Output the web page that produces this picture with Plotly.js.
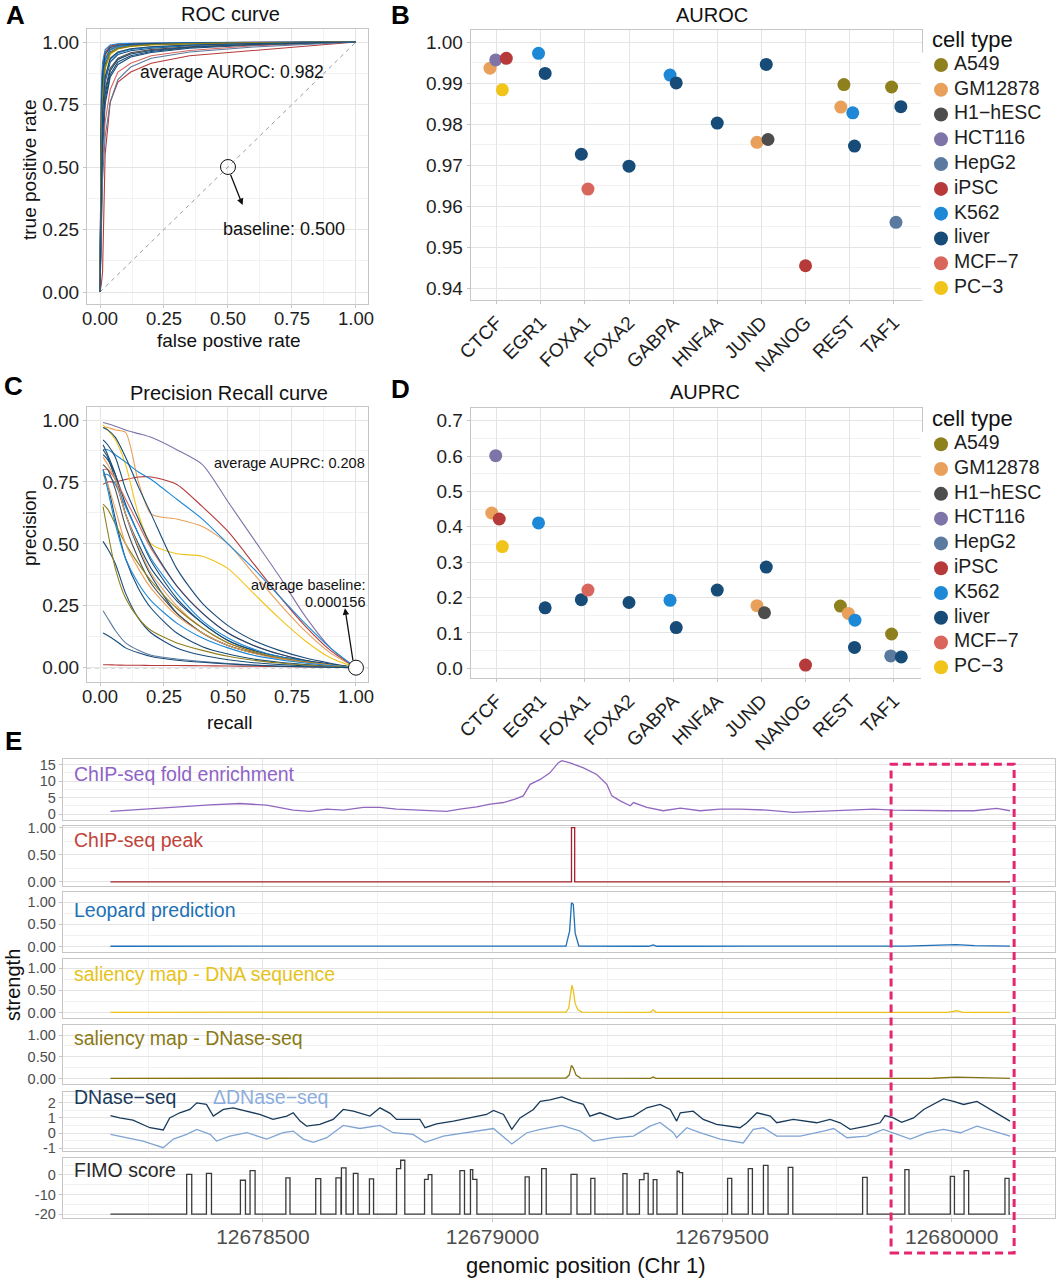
<!DOCTYPE html>
<html>
<head>
<meta charset="utf-8">
<script src="https://cdn.plot.ly/plotly-3.0.1.min.js"></script>
<style>
  html, body { margin: 0; padding: 0; background: #ffffff; }
  #fig { width: 1057px; height: 1280px; }
</style>
</head>
<body>
<div id="fig"></div>
<script>
// ---------------- cell types & TFs ----------------
const cellTypes  = ['A549', 'GM12878', 'H1\u2212hESC', 'HCT116', 'HepG2', 'iPSC', 'K562', 'liver', 'MCF\u22127', 'PC\u22123'];
const cellColors = ['#8F801E', '#E9A05A', '#4D4D4D', '#7F74A8', '#5B7A9F', '#B73A3A', '#1C88D6', '#174B78', '#D9665C', '#F0C419'];
const tfNames    = ['CTCF', 'EGR1', 'FOXA1', 'FOXA2', 'GABPA', 'HNF4A', 'JUND', 'NANOG', 'REST', 'TAF1'];

// one entry per evaluated TF / cell-type pair
const pairTF   = ['CTCF','CTCF','CTCF','CTCF','EGR1','EGR1','FOXA1','FOXA1','FOXA2','GABPA','GABPA','HNF4A',
                  'JUND','JUND','JUND','NANOG','REST','REST','REST','REST','TAF1','TAF1','TAF1'];
const pairCell = ['GM12878','HCT116','iPSC','PC\u22123','K562','liver','liver','MCF\u22127','liver','K562','liver','liver',
                  'GM12878','H1\u2212hESC','liver','iPSC','A549','GM12878','K562','liver','A549','HepG2','liver'];
const aurocValues = [0.9937,0.9957,0.9961,0.9884,0.9973,0.9924,0.9727,0.9642,0.9698,0.9920,0.9901,0.9803,
                     0.9756,0.9763,0.9946,0.9455,0.9897,0.9842,0.9828,0.9747,0.9891,0.9561,0.9843];
const auprcValues = [0.439,0.601,0.422,0.344,0.411,0.171,0.194,0.221,0.186,0.192,0.115,0.221,
                     0.177,0.157,0.286,0.009,0.176,0.155,0.136,0.059,0.097,0.035,0.032];
// horizontal jitter of each dot inside its TF column
const aurocJitter = [-0.15,-0.02,0.22,0.13,-0.05,0.10,-0.08,0.07,0,-0.07,0.07,0,-0.10,0.15,0.11,0,-0.13,-0.20,0.07,0.11,-0.05,0.05,0.16];
const auprcJitter = [-0.11,-0.02,0.06,0.13,-0.05,0.10,-0.08,0.07,0,-0.07,0.07,0,-0.10,0.07,0.11,0,-0.21,-0.03,0.12,0.11,-0.05,-0.07,0.17];

// ---------------- ROC curves ----------------
const rocFpr = [0, 0.002, 0.005, 0.01, 0.02, 0.04, 0.07, 0.12, 0.2, 0.35, 0.6, 1];
const rocTpr = [
  [0,0.30,0.66,0.85,0.94,0.975,0.985,0.990,0.993,0.996,0.998,1],
  [0,0.36,0.74,0.89,0.955,0.982,0.990,0.993,0.995,0.997,0.999,1],
  [0,0.38,0.76,0.90,0.96,0.984,0.991,0.994,0.996,0.997,0.999,1],
  [0,0.22,0.55,0.77,0.89,0.95,0.972,0.982,0.988,0.992,0.996,1],
  [0,0.42,0.80,0.92,0.97,0.988,0.993,0.995,0.997,0.998,0.999,1],
  [0,0.28,0.63,0.83,0.93,0.97,0.982,0.988,0.992,0.995,0.998,1],
  [0,0.13,0.37,0.60,0.77,0.87,0.92,0.945,0.962,0.978,0.990,1],
  [0,0.10,0.30,0.50,0.68,0.81,0.88,0.915,0.945,0.966,0.985,1],
  [0,0.12,0.35,0.57,0.75,0.86,0.91,0.94,0.958,0.975,0.988,1],
  [0,0.28,0.62,0.82,0.925,0.968,0.981,0.988,0.992,0.995,0.998,1],
  [0,0.25,0.58,0.79,0.91,0.96,0.976,0.985,0.990,0.994,0.997,1],
  [0,0.18,0.46,0.69,0.84,0.92,0.95,0.965,0.975,0.985,0.993,1],
  [0,0.15,0.40,0.63,0.80,0.89,0.93,0.955,0.968,0.980,0.990,1],
  [0,0.15,0.41,0.64,0.81,0.895,0.935,0.957,0.970,0.981,0.991,1],
  [0,0.33,0.70,0.87,0.95,0.978,0.987,0.991,0.994,0.996,0.998,1],
  [0,0.01,0.03,0.08,0.55,0.76,0.84,0.88,0.915,0.945,0.965,1],
  [0,0.24,0.57,0.78,0.90,0.958,0.975,0.984,0.990,0.994,0.997,1],
  [0,0.20,0.50,0.72,0.86,0.935,0.960,0.973,0.981,0.988,0.994,1],
  [0,0.19,0.48,0.71,0.85,0.93,0.956,0.970,0.978,0.987,0.994,1],
  [0,0.14,0.40,0.62,0.79,0.885,0.93,0.952,0.966,0.979,0.990,1],
  [0,0.23,0.56,0.78,0.90,0.955,0.973,0.983,0.989,0.993,0.997,1],
  [0,0.08,0.25,0.45,0.62,0.76,0.85,0.90,0.935,0.960,0.980,1],
  [0,0.20,0.50,0.72,0.86,0.935,0.960,0.973,0.981,0.988,0.994,1]
];
const rocChance = [0, 1];
const rocBaseline = 0.5;

// ---------------- precision-recall curves ----------------
const prRecall = [0.012,0.03,0.06,0.1,0.15,0.2,0.3,0.4,0.5,0.6,0.7,0.8,0.9,1.0];
const prPrecision = [
  [0.97,0.97,0.96,0.95,0.75,0.62,0.60,0.57,0.50,0.38,0.26,0.15,0.06,0],
  [0.99,0.985,0.975,0.96,0.945,0.93,0.88,0.82,0.67,0.52,0.37,0.21,0.08,0],
  [0.74,0.75,0.75,0.76,0.77,0.77,0.74,0.65,0.55,0.42,0.29,0.17,0.07,0],
  [0.98,0.96,0.92,0.82,0.62,0.50,0.46,0.45,0.40,0.30,0.20,0.11,0.04,0],
  [0.88,0.88,0.86,0.83,0.79,0.76,0.68,0.60,0.50,0.40,0.29,0.18,0.08,0],
  [0.90,0.86,0.78,0.62,0.48,0.37,0.22,0.14,0.09,0.06,0.04,0.025,0.012,0],
  [0.86,0.84,0.78,0.66,0.54,0.43,0.28,0.18,0.11,0.07,0.045,0.028,0.013,0],
  [0.80,0.80,0.76,0.68,0.58,0.48,0.33,0.22,0.14,0.09,0.055,0.03,0.014,0],
  [0.88,0.85,0.76,0.62,0.50,0.40,0.27,0.18,0.11,0.07,0.045,0.028,0.013,0],
  [0.78,0.78,0.74,0.65,0.54,0.44,0.30,0.19,0.12,0.075,0.045,0.027,0.012,0],
  [0.80,0.74,0.60,0.44,0.32,0.24,0.14,0.085,0.055,0.035,0.022,0.013,0.006,0],
  [0.92,0.90,0.85,0.72,0.60,0.49,0.33,0.22,0.14,0.09,0.055,0.03,0.014,0],
  [0.85,0.82,0.76,0.62,0.49,0.38,0.25,0.16,0.10,0.065,0.04,0.024,0.011,0],
  [0.82,0.80,0.72,0.57,0.44,0.34,0.22,0.14,0.09,0.06,0.037,0.022,0.010,0],
  [0.97,0.96,0.93,0.85,0.73,0.62,0.40,0.26,0.17,0.11,0.07,0.04,0.018,0],
  [0.012,0.012,0.011,0.010,0.010,0.009,0.009,0.008,0.007,0.006,0.005,0.004,0.002,0],
  [0.66,0.64,0.58,0.50,0.42,0.35,0.24,0.16,0.10,0.065,0.04,0.024,0.011,0],
  [0.78,0.74,0.64,0.50,0.40,0.32,0.21,0.14,0.09,0.058,0.036,0.021,0.010,0],
  [0.80,0.72,0.58,0.44,0.34,0.27,0.18,0.12,0.08,0.05,0.032,0.019,0.009,0],
  [0.51,0.48,0.42,0.30,0.20,0.14,0.08,0.05,0.032,0.02,0.013,0.008,0.004,0],
  [0.65,0.55,0.40,0.28,0.20,0.15,0.10,0.07,0.046,0.03,0.019,0.011,0.005,0],
  [0.23,0.20,0.15,0.10,0.07,0.05,0.035,0.025,0.017,0.011,0.007,0.004,0.002,0],
  [0.14,0.13,0.11,0.08,0.06,0.045,0.03,0.022,0.015,0.010,0.006,0.004,0.002,0]
];
const prBaseline = 0.000156;

// ---------------- genome tracks (chr1) ----------------
const regionStart = 12678168;
const regionEnd   = 12680127;
const highlightRegion = [12679868, 12680136];

const foldPos = [12678168,12678239,12678312,12678385,12678450,12678508,12678566,12678602,12678639,12678675,
                 12678719,12678755,12678791,12678827,12678864,12678900,12678929,12678966,12678995,12679024,
                 12679049,12679067,12679082,12679104,12679125,12679143,12679151,12679169,12679198,12679227,
                 12679249,12679260,12679278,12679300,12679307,12679336,12679372,12679409,12679452,12679496,
                 12679539,12679597,12679655,12679714,12679772,12679830,12679873,12679931,12679990,12680048,
                 12680098,12680127];
const foldValue = [0.8,1.5,2.0,2.8,3.2,2.7,1.2,0.8,1.5,1.2,
                   2.0,2.0,1.5,1.2,1.0,0.8,1.5,2.2,3.0,3.5,
                   4.5,5.5,9.0,10.5,12.5,15.5,16.2,15.5,14.0,12.0,
                   9.0,5.5,4.0,2.5,3.5,2.0,1.0,1.8,1.0,1.5,
                   1.5,1.2,0.5,0.8,1.2,1.5,1.2,1.0,1.0,1.0,
                   1.7,1.0];

const peakStarts = [12679172];
const peakEnds   = [12679179];

const leopardPos   = [12678168,12678600,12679000,12679160,12679168,12679172,12679176,12679180,12679188,
                      12679340,12679350,12679358,12679900,12679960,12680010,12680050,12680127];
const leopardValue = [0.005,0.005,0.006,0.01,0.35,0.98,0.95,0.30,0.01,
                      0.005,0.035,0.005,0.008,0.03,0.04,0.02,0.008];

const salSeqPos   = [12678168,12679000,12679160,12679166,12679170,12679173,12679176,12679180,12679186,12679195,
                     12679344,12679350,12679356,12679990,12680012,12680024,12680127];
const salSeqValue = [0.005,0.005,0.01,0.10,0.45,0.62,0.50,0.20,0.06,0.01,
                     0.005,0.06,0.005,0.005,0.04,0.005,0.005];

const salDnasePos   = [12678168,12679000,12679160,12679167,12679172,12679176,12679182,12679192,
                       12679344,12679350,12679356,12679960,12680010,12680060,12680127];
const salDnaseValue = [0.004,0.004,0.01,0.08,0.30,0.24,0.08,0.01,
                       0.004,0.035,0.004,0.006,0.03,0.02,0.004];

const dnasePos = [12678168,12678188,12678217,12678239,12678254,12678283,12678297,12678319,12678341,12678356,
                  12678377,12678392,12678414,12678435,12678465,12678493,12678522,12678552,12678566,12678581,
                  12678595,12678624,12678653,12678675,12678697,12678719,12678733,12678755,12678777,12678791,
                  12678813,12678842,12678853,12678878,12678915,12678951,12678987,12679002,12679024,12679042,
                  12679060,12679089,12679104,12679125,12679151,12679176,12679198,12679212,12679234,12679271,
                  12679307,12679336,12679365,12679387,12679401,12679409,12679437,12679459,12679488,12679539,
                  12679554,12679576,12679605,12679619,12679655,12679706,12679735,12679757,12679779,12679815,
                  12679844,12679855,12679873,12679891,12679917,12679939,12679982,12680004,12680026,12680055,
                  12680084,12680113,12680127];
const dnaseValue = [1.16,1.0,0.85,0.57,0.35,0.2,1.0,1.34,1.56,2.0,
                    1.9,1.12,1.56,1.67,1.45,1.23,0.9,1.12,1.34,0.79,
                    0.46,0.57,0.9,1.56,1.45,1.23,1.12,1.67,1.3,0.9,
                    0.9,0.9,0.35,0.6,0.79,1.0,1.23,1.5,1.23,0.24,
                    1.0,1.56,2.1,2.2,2.39,2.1,1.9,1.12,1.34,0.9,
                    1.12,1.67,1.89,1.56,0.79,1.34,1.45,0.9,0.57,0.35,
                    0.68,1.34,1.12,0.68,0.9,0.68,0.9,0.68,0.24,0.46,
                    0.68,1.16,1.0,0.71,1.0,1.56,2.26,2.1,1.89,2.1,
                    1.56,1.0,0.79];

const deltaPos = [12678168,12678203,12678239,12678283,12678305,12678334,12678356,12678385,12678399,12678428,
                  12678465,12678508,12678544,12678566,12678588,12678610,12678639,12678675,12678711,12678755,
                  12678784,12678827,12678853,12678893,12678944,12679002,12679042,12679075,12679104,12679151,
                  12679191,12679220,12679263,12679307,12679343,12679365,12679394,12679401,12679423,12679452,
                  12679496,12679546,12679568,12679590,12679619,12679670,12679721,12679743,12679772,12679815,
                  12679851,12679881,12679910,12679946,12679982,12680019,12680055,12680091,12680127];
const deltaValue = [-0.09,-0.31,-0.53,-0.97,-0.4,-0.09,0.24,-0.09,-0.53,-0.2,
                    0.02,-0.4,0.02,0.13,-0.4,-0.62,-0.31,0.5,0.3,0.5,
                    0.02,-0.09,-0.62,-0.2,0.02,0.3,-0.72,0.02,0.24,0.5,
                    0.13,-0.53,-0.31,-0.2,0.46,0.7,0.02,-0.31,0.35,0.02,
                    -0.4,-0.66,0.24,0.35,-0.2,-0.2,0.13,0.3,-0.31,-0.2,
                    0.24,-0.09,-0.4,0.02,0.24,0.02,0.46,0.13,-0.2];

// FIMO motif hits: start, end, score (background level -20)
const fimoStart = [12678334,12678377,12678451,12678472,12678550,12678615,12678659,12678671,12678697,12678732,
                   12678791,12678800,12678852,12678860,12678929,12678952,12678957,12679071,12679107,12679171,
                   12679214,12679284,12679320,12679330,12679350,12679402,12679407,12679512,12679557,12679590,
                   12679644,12679806,12679898,12679997,12680027,12680116];
const fimoEnd   = [12678345,12678388,12678462,12678483,12678559,12678626,12678670,12678681,12678707,12678741,
                   12678800,12678809,12678860,12678868,12678939,12678957,12678966,12679080,12679117,12679184,
                   12679223,12679293,12679330,12679339,12679358,12679407,12679414,12679521,12679566,12679600,
                   12679654,12679816,12679907,12680006,12680037,12680125];
const fimoScore = [0.34,0.85,-2.7,2.2,-1.5,-1.9,-1.5,3.6,0.85,-2.0,
                   3.2,7.5,-2.2,0.2,2.2,2.7,-2.2,-1.0,3.2,0.34,
                   -1.7,0.7,-2.4,0.85,-2.4,1.9,1.2,-1.7,3.2,4.9,
                   3.9,-1.2,2.7,-0.7,2.2,-1.7];
const fimoFloor = -20;

const genomeTicks = [12678500, 12679000, 12679500, 12680000];

// ---------------- helpers ----------------
const W = 1057, H = 1280;
const FONT = 'Liberation Sans, Arial, Helvetica, sans-serif';
const GRID = '#E4E4E4', MINOR = '#F2F2F2', BORDER = '#C6C6C6';
const hx = (a, b) => [a / W, b / W];
const hy = (top, bottom) => [1 - bottom / H, 1 - top / H];
const px = v => v / W;
const py = v => 1 - v / H;

function axis(extra) {
  return Object.assign({
    showline: true, mirror: true, linecolor: BORDER, linewidth: 1,
    showgrid: true, gridcolor: GRID, gridwidth: 1, zeroline: false,
    ticks: 'outside', ticklen: 3, tickwidth: 1, tickcolor: BORDER,
    tickfont: { family: FONT, size: 19, color: '#1E1E1E' },
    fixedrange: true
  }, extra);
}
function minorGrid(vals) {
  return { tickmode: 'array', tickvals: vals, showgrid: true, gridcolor: MINOR, gridwidth: 1, ticks: '' };
}
const cellColor = c => cellColors[cellTypes.indexOf(c)];

const traces = [];

// ---- A: ROC curves
traces.push({ x: rocChance, y: rocChance, xaxis: 'x', yaxis: 'y', mode: 'lines',
  line: { color: '#9A9A9A', width: 1, dash: '4px,4px' }, hoverinfo: 'skip' });
pairTF.forEach((tf, i) => {
  traces.push({ x: rocFpr, y: rocTpr[i], xaxis: 'x', yaxis: 'y', mode: 'lines',
    line: { color: cellColor(pairCell[i]), width: 1.1 }, name: tf + ' ' + pairCell[i] });
});

// ---- C: precision-recall curves
pairTF.forEach((tf, i) => {
  traces.push({ x: prRecall, y: prPrecision[i], xaxis: 'x3', yaxis: 'y3', mode: 'lines',
    line: { color: cellColor(pairCell[i]), width: 1.1, shape: 'spline', smoothing: 0.7 }, name: tf + ' ' + pairCell[i] });
});

// ---- B / D: per-pair scores, coloured by cell type
cellTypes.forEach((ct, k) => {
  const idx = pairCell.map((c, i) => c === ct ? i : -1).filter(i => i >= 0);
  if (!idx.length) return;
  traces.push({ x: idx.map(i => tfNames.indexOf(pairTF[i]) + aurocJitter[i]), y: idx.map(i => aurocValues[i]),
    xaxis: 'x2', yaxis: 'y2', mode: 'markers', marker: { color: cellColors[k], size: 13 }, name: ct });
  traces.push({ x: idx.map(i => tfNames.indexOf(pairTF[i]) + auprcJitter[i]), y: idx.map(i => auprcValues[i]),
    xaxis: 'x4', yaxis: 'y4', mode: 'markers', marker: { color: cellColors[k], size: 13 }, name: ct });
});

// ---- legends for B and D (cell-type keys)
const legendIdx = cellTypes.map((c, i) => i);
[['x12', 'y12'], ['x13', 'y13']].forEach(([xa, ya]) => {
  traces.push({ x: cellTypes.map(() => 0), y: legendIdx, xaxis: xa, yaxis: ya, mode: 'markers',
    marker: { color: cellColors, size: 14 }, hoverinfo: 'skip', cliponaxis: false });
  traces.push({ x: cellTypes.map(() => 13), y: legendIdx, xaxis: xa, yaxis: ya, mode: 'text',
    text: cellTypes, textposition: 'middle right',
    textfont: { family: FONT, size: 19.5, color: '#1E1E1E' }, hoverinfo: 'skip', cliponaxis: false });
});

// ---- E: genome tracks
function stepFromHits(starts, ends, vals, floor) {
  const xs = [regionStart], ys = [floor];
  let prevEnd = null;
  starts.forEach((s, i) => {
    if (prevEnd !== null && s === prevEnd) {
      xs.pop(); ys.pop();
      xs.push(s); ys.push(vals[i]);
    } else {
      xs.push(s, s); ys.push(floor, vals[i]);
    }
    xs.push(ends[i], ends[i]); ys.push(vals[i], floor);
    prevEnd = ends[i];
  });
  xs.push(regionEnd); ys.push(floor);
  return { xs, ys };
}
const peakStep = stepFromHits(peakStarts, peakEnds, peakStarts.map(() => 1), 0);
const fimoStep = stepFromHits(fimoStart, fimoEnd, fimoScore, fimoFloor);

const trk = (x, y, n, color) => ({ x, y, xaxis: 'x' + n, yaxis: 'y' + n, mode: 'lines',
  line: { color, width: 1.3 }, hoverinfo: 'skip' });
traces.push(trk(foldPos, foldValue, 5, '#9168C0'));
traces.push(trk(peakStep.xs, peakStep.ys, 6, '#A3232A'));
traces.push(trk(leopardPos, leopardValue, 7, '#1D6FB8'));
traces.push(trk(salSeqPos, salSeqValue, 8, '#ECC21B'));
traces.push(trk(salDnasePos, salDnaseValue, 9, '#857414'));
traces.push(trk(deltaPos, deltaValue, 10, '#7FA4D3'));
traces.push(trk(dnasePos, dnaseValue, 10, '#183A5A'));
traces.push(trk(fimoStep.xs, fimoStep.ys, 11, '#3A3A3A'));

// ---------------- layout ----------------
const unitTicks = [0, 0.25, 0.5, 0.75, 1];
const unitText = ['0.00', '0.25', '0.50', '0.75', '1.00'];
const unitMinor = [0.125, 0.375, 0.625, 0.875];
const tfIdx = tfNames.map((t, i) => i);
const xUnitFont = { family: FONT, size: 18.5, color: '#1E1E1E' };

const layout = {
  width: W, height: H, margin: { l: 0, r: 0, t: 0, b: 0 },
  paper_bgcolor: '#ffffff', plot_bgcolor: '#ffffff', showlegend: false,
  font: { family: FONT, color: '#1E1E1E' },

  xaxis:  axis({ domain: hx(87, 368), anchor: 'y', range: [-0.0508, 1.047], tickmode: 'array', tickvals: unitTicks, ticktext: unitText, minor: minorGrid(unitMinor), ticklabelstandoff: -5, tickfont: xUnitFont }),
  yaxis:  axis({ domain: hy(29, 304), anchor: 'x', range: [-0.048, 1.052], tickmode: 'array', tickvals: unitTicks, ticktext: unitText, minor: minorGrid(unitMinor) }),

  xaxis2: axis({ domain: hx(470.7, 921.9), anchor: 'y2', range: [-0.587, 9.637], tickmode: 'array', tickvals: tfIdx, ticktext: tfNames, tickangle: -45 }),
  yaxis2: axis({ domain: hy(30, 300), anchor: 'x2', range: [0.93715, 1.003], tickmode: 'array',
                 tickvals: [0.94, 0.95, 0.96, 0.97, 0.98, 0.99, 1.00], ticktext: ['0.94','0.95','0.96','0.97','0.98','0.99','1.00'],
                 minor: minorGrid([0.945, 0.955, 0.965, 0.975, 0.985, 0.995]) }),

  xaxis3: axis({ domain: hx(87, 368), anchor: 'y3', range: [-0.0508, 1.047], tickmode: 'array', tickvals: unitTicks, ticktext: unitText, minor: minorGrid(unitMinor), ticklabelstandoff: -5, tickfont: xUnitFont }),
  yaxis3: axis({ domain: hy(407, 682), anchor: 'x3', range: [-0.0577, 1.0525], tickmode: 'array', tickvals: unitTicks, ticktext: unitText, minor: minorGrid(unitMinor) }),

  xaxis4: axis({ domain: hx(470.7, 921.9), anchor: 'y4', range: [-0.587, 9.637], tickmode: 'array', tickvals: tfIdx, ticktext: tfNames, tickangle: -45 }),
  yaxis4: axis({ domain: hy(408.3, 678.3), anchor: 'x4', range: [-0.0283, 0.735], tickmode: 'array',
                 tickvals: [0, 0.1, 0.2, 0.3, 0.4, 0.5, 0.6, 0.7], ticktext: ['0.0','0.1','0.2','0.3','0.4','0.5','0.6','0.7'],
                 minor: minorGrid([0.05, 0.15, 0.25, 0.35, 0.45, 0.55, 0.65]) }),

  xaxis12: { domain: hx(921, 1057), anchor: 'y12', range: [-20, 116], visible: false, fixedrange: true },
  yaxis12: { domain: hy(52.6, 300.4), anchor: 'x12', range: [9.5, -0.5], visible: false, fixedrange: true },
  xaxis13: { domain: hx(921, 1057), anchor: 'y13', range: [-20, 116], visible: false, fixedrange: true },
  yaxis13: { domain: hy(431.9, 679.7), anchor: 'x13', range: [9.5, -0.5], visible: false, fixedrange: true },

  annotations: [], shapes: []
};

// genome track axes
const trackRows = [
  { n: 5,  top: 759.3, bottom: 820,   range: [-1.8, 16.6],    ticks: [0, 5, 10, 15],   text: ['0', '5', '10', '15'],        minor: [2.5, 7.5, 12.5] },
  { n: 6,  top: 826,   bottom: 885.7, range: [-0.069, 1.03],  ticks: [0, 0.5, 1],      text: ['0.00', '0.50', '1.00'],      minor: [0.25, 0.75] },
  { n: 7,  top: 892,   bottom: 952,   range: [-0.124, 1.225], ticks: [0, 0.5, 1],      text: ['0.00', '0.50', '1.00'],      minor: [0.25, 0.75] },
  { n: 8,  top: 958.5, bottom: 1017.5,range: [-0.113, 1.222], ticks: [0, 0.5, 1],      text: ['0.00', '0.50', '1.00'],      minor: [0.25, 0.75] },
  { n: 9,  top: 1025,  bottom: 1084,  range: [-0.126, 1.23],  ticks: [0, 0.5, 1],      text: ['0.00', '0.50', '1.00'],      minor: [0.25, 0.75] },
  { n: 10, top: 1091.5,bottom: 1150.7,range: [-1.17, 2.75],   ticks: [-1, 0, 1, 2],    text: ['-1', '0', '1', '2'],          minor: [-0.5, 0.5, 1.5, 2.5] },
  { n: 11, top: 1158.3,bottom: 1218.3,range: [-22.1, 8.5],    ticks: [-20, -10, 0],    text: ['-20', '-10', '0'],            minor: [-15, -5, 5] }
];
const genomeRange = [12678064, 12680225];
const genomeMinor = [12678250, 12678750, 12679250, 12679750];
trackRows.forEach(r => {
  const last = r.n === 11;
  layout['xaxis' + r.n] = axis({
    domain: hx(62.7, 1055), anchor: 'y' + r.n, range: genomeRange, tickmode: 'array',
    tickvals: genomeTicks, ticktext: genomeTicks.map(String), showticklabels: last,
    ticks: last ? 'outside' : '', minor: minorGrid(genomeMinor), ticklabelstandoff: -4,
    tickfont: { family: FONT, size: 21, color: '#4D4D4D' },
    matches: r.n === 5 ? undefined : 'x5'
  });
  layout['yaxis' + r.n] = axis({
    domain: hy(r.top, r.bottom), anchor: 'x' + r.n, range: r.range, tickmode: 'array',
    tickvals: r.ticks, ticktext: r.text, minor: minorGrid(r.minor),
    tickfont: { family: FONT, size: 14.5, color: '#4D4D4D' }
  });
});

// ---------------- text ----------------
const ann = (text, x, y, o) => Object.assign({ text, x: px(x), y: py(y), xref: 'paper', yref: 'paper',
  showarrow: false, xanchor: 'center', yanchor: 'middle', font: { family: FONT, size: 20, color: '#111111' } }, o || {});
const A = layout.annotations;
// panel letters
[['A', 4, 15], ['B', 389, 15], ['C', 2, 386], ['D', 389, 389], ['E', 3, 741]].forEach(([t, x, y]) =>
  A.push(ann('<b>' + t + '</b>', x, y, { xanchor: 'left', font: { family: FONT, size: 26, color: '#000' } })));
// panel titles
A.push(ann('ROC curve', 230, 14));
A.push(ann('AUROC', 712, 14.5));
A.push(ann('Precision Recall curve', 229, 393.5));
A.push(ann('AUPRC', 705, 392));
// axis titles
A.push(ann('false postive rate', 229, 340, { font: { family: FONT, size: 19, color: '#111' } }));
A.push(ann('true positive rate', 29, 170, { textangle: -90, font: { family: FONT, size: 19, color: '#111' } }));
A.push(ann('recall', 229, 722, { font: { family: FONT, size: 19, color: '#111' } }));
A.push(ann('precision', 29, 528, { textangle: -90, font: { family: FONT, size: 19, color: '#111' } }));
A.push(ann('cell type', 930, 39.5, { xanchor: 'left', font: { family: FONT, size: 22, color: '#111' } }));
A.push(ann('cell type', 930, 418, { xanchor: 'left', font: { family: FONT, size: 22, color: '#111' } }));
// in-panel notes
A.push(ann('average AUROC: 0.982', 138, 71.5, { xanchor: 'left', font: { family: FONT, size: 17.5, color: '#111' } }));
A.push(ann('baseline: 0.500', 221, 229, { xanchor: 'left', font: { family: FONT, size: 18, color: '#111' } }));
A.push(ann('average AUPRC: 0.208', 211.5, 463.5, { xanchor: 'left', font: { family: FONT, size: 14.5, color: '#111' } }));
A.push(ann('average baseline:', 367, 584.5, { xanchor: 'right', font: { family: FONT, size: 14.5, color: '#111' } }));
A.push(ann(String(prBaseline.toFixed(6)), 367, 601.5, { xanchor: 'right', font: { family: FONT, size: 14.5, color: '#111' } }));
// arrows
A.push({ xref: 'x', yref: 'y', axref: 'x', ayref: 'y', x: 0.557, y: 0.348, ax: 0.508, ay: 0.475, text: '',
  showarrow: true, arrowhead: 2, arrowsize: 1, arrowwidth: 1.3, arrowcolor: '#111' });
A.push({ xref: 'x3', yref: 'y3', axref: 'x3', ayref: 'y3', x: 0.957, y: 0.24, ax: 0.989, ay: 0.024, text: '',
  showarrow: true, arrowhead: 2, arrowsize: 1, arrowwidth: 1.3, arrowcolor: '#111' });
// track labels
[['ChIP-seq fold enrichment', 774, '#8E63C6'], ['ChIP-seq peak', 840, '#C0433A'], ['Leopard prediction', 910, '#2171B5'],
 ['saliency map - DNA sequence', 974.3, '#E6C21A'], ['saliency map - DNase-seq', 1038.3, '#8A7A16'],
 ['DNase\u2212seq', 1097.3, '#1B3A5C'], ['FIMO score', 1170, '#2A2A2A']].forEach(([t, y, c]) =>
  A.push(ann(t, 72, y, { xanchor: 'left', font: { family: FONT, size: 19.5, color: c } })));
A.push(ann('\u0394DNase\u2212seq', 211, 1097.3, { xanchor: 'left', font: { family: FONT, size: 19.5, color: '#8DAEDD' } }));
A.push(ann('strength', 13, 985, { textangle: -90, font: { family: FONT, size: 20, color: '#111' } }));
A.push(ann('genomic position (Chr 1)', 586, 1265, { font: { family: FONT, size: 22, color: '#111' } }));

// ---------------- shapes ----------------
const S = layout.shapes;
S.push({ type: 'circle', xref: 'x', yref: 'y', xsizemode: 'pixel', ysizemode: 'pixel',
  xanchor: rocBaseline, yanchor: rocBaseline, x0: -7.5, x1: 7.5, y0: -7.5, y1: 7.5,
  line: { color: '#111', width: 1 }, fillcolor: 'rgba(0,0,0,0)' });
S.push({ type: 'line', xref: 'x3 domain', yref: 'y3', x0: 0, x1: 1, y0: prBaseline, y1: prBaseline,
  line: { color: '#111', width: 1, dash: '4px,4px' }, layer: 'below' });
S.push({ type: 'circle', xref: 'x3', yref: 'y3', xsizemode: 'pixel', ysizemode: 'pixel',
  xanchor: 1, yanchor: prBaseline, x0: -7.5, x1: 7.5, y0: -7.5, y1: 7.5,
  line: { color: '#111', width: 1 }, fillcolor: '#ffffff' });
S.push({ type: 'rect', xref: 'x11', yref: 'paper', x0: highlightRegion[0], x1: highlightRegion[1],
  y0: py(1253), y1: py(764.3), line: { color: '#E5256F', width: 3, dash: '8px,5px' }, fillcolor: 'rgba(0,0,0,0)' });

Plotly.newPlot('fig', traces, layout, { staticPlot: true, displayModeBar: false });
</script>
</body>
</html>
